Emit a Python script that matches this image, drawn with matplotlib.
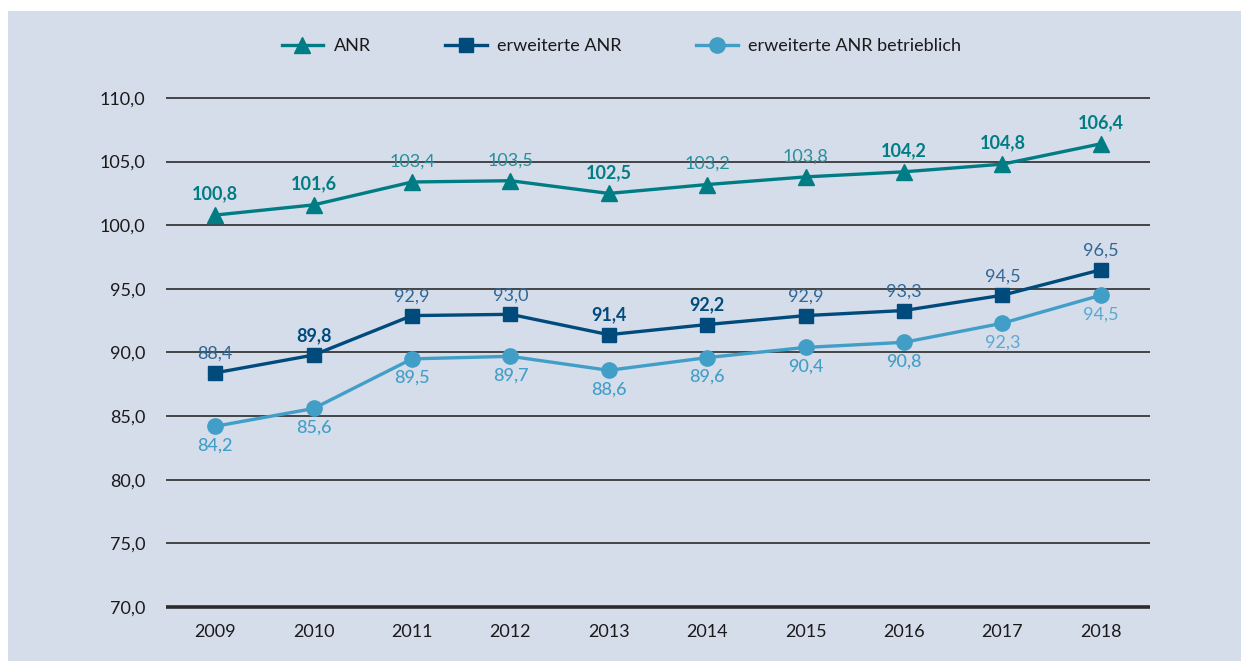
import matplotlib
matplotlib.use("Agg")
import matplotlib.pyplot as plt
from matplotlib.patches import Rectangle

years = ["2009", "2010", "2011", "2012", "2013", "2014", "2015", "2016", "2017", "2018"]
anr = [100.8, 101.6, 103.4, 103.5, 102.5, 103.2, 103.8, 104.2, 104.8, 106.4]
erw_anr = [88.4, 89.8, 92.9, 93.0, 91.4, 92.2, 92.9, 93.3, 94.5, 96.5]
erw_anr_betr = [84.2, 85.6, 89.5, 89.7, 88.6, 89.6, 90.4, 90.8, 92.3, 94.5]
series_names = ["ANR", "erweiterte ANR", "erweiterte ANR betrieblich"]
yticks = [70, 75, 80, 85, 90, 95, 100, 105, 110]

# label styles (weights) per point
anr_w = ["bold", "bold", "normal", "normal", "bold", "normal", "normal", "bold", "bold", "bold"]
erw_w = ["normal", "bold", "normal", "normal", "bold", "bold", "normal", "normal", "normal", "normal"]
betr_w = ["medium"] * 8 + ["normal", "normal"]

plt.rcParams['font.family'] = ['Lato', 'DejaVu Sans']

W, H = 1243, 661
fig = plt.figure(figsize=(W / 100, H / 100), dpi=100, facecolor="white")
bg = "#d5dcea"
fig.patches.append(Rectangle((8 / W, 0), (1241 - 8) / W, (H - 11) / H,
                             transform=fig.transFigure, facecolor=bg, edgecolor="none", zorder=-10))

ax = fig.add_axes([166 / W, 54 / H, (1150 - 166) / W, (607 - 98) / H])
ax.set_facecolor("none")
ax.set_zorder(2)

c_anr = "#007d84"
c_erw = "#004a7c"
c_betr = "#419fc7"
fs = 13

x = list(range(len(years)))
ax.plot(x, anr, color=c_anr, lw=2.4, marker="^", ms=11, label=series_names[0], zorder=5)
ax.plot(x, erw_anr, color=c_erw, lw=2.4, marker="s", ms=10.5, label=series_names[1], zorder=5)
ax.plot(x, erw_anr_betr, color=c_betr, lw=2.4, marker="o", ms=11, label=series_names[2], zorder=5)

def fmt(v):
    return f"{v:.1f}".replace(".", ",")

for xi, v, w in zip(x, anr, anr_w):
    ax.annotate(fmt(v), (xi, v), xytext=(0, 9), textcoords="offset points",
                ha="center", va="bottom", fontsize=fs, color=c_anr if w != "normal" else "#2a8f9a",
                fontweight=w, zorder=6)
for xi, v, w in zip(x, erw_anr, erw_w):
    ax.annotate(fmt(v), (xi, v), xytext=(0, 8), textcoords="offset points",
                ha="center", va="bottom", fontsize=fs, color=c_erw if w != "normal" else "#2f6796",
                fontweight=w, zorder=6)
for xi, v, w in zip(x, erw_anr_betr, betr_w):
    ax.annotate(fmt(v), (xi, v), xytext=(0, -8), textcoords="offset points",
                ha="center", va="top", fontsize=fs, color=c_betr if w != "normal" else "#5aaad0",
                fontweight=w, zorder=6)

ax.set_xlim(-0.5, len(years) - 0.5)
ax.set_ylim(70, 110)
ax.set_yticks(yticks)
ax.set_yticklabels([fmt(t) for t in yticks], fontsize=fs, color="#1a1a1a")
ax.set_xticks(x)
ax.set_xticklabels(years, fontsize=fs, color="#1a1a1a")
ax.tick_params(axis="both", length=0)
ax.tick_params(axis="y", pad=15)
ax.tick_params(axis="x", pad=12)
for s in ax.spines.values():
    s.set_visible(False)
for t in yticks:
    ax.axhline(t, color="#2b2b2b", lw=2.6 if t == 70 else 1.2, zorder=1, clip_on=False,
               solid_capstyle="butt")

leg = fig.legend(loc="center", bbox_to_anchor=(0.5, 1 - 46 / H), ncol=3, frameon=False,
                 fontsize=fs, handlelength=2.3, columnspacing=4.1, handletextpad=0.6)
for t in leg.get_texts():
    t.set_color("#1a1a1a")

fig.savefig("out.png", dpi=100, facecolor="white")
